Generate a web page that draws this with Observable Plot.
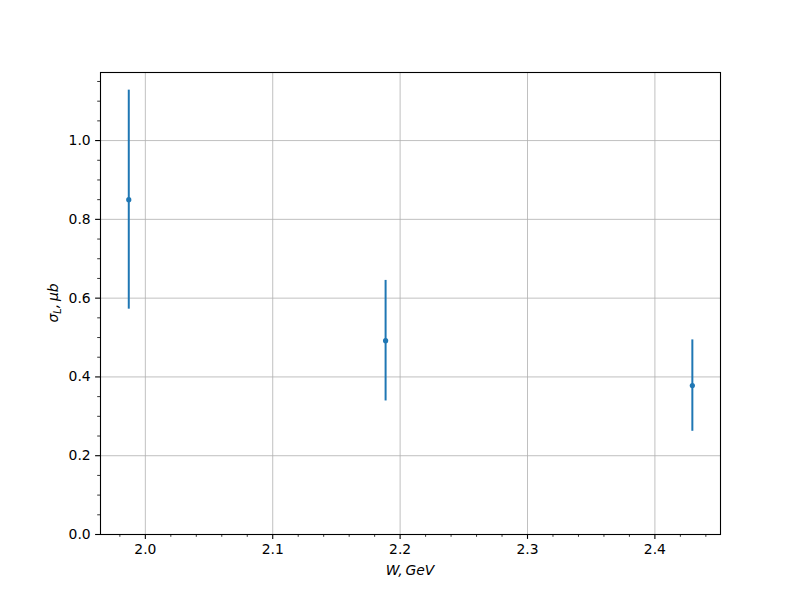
<!DOCTYPE html>
<html>
<head>
<meta charset="utf-8">
<script src="https://cdn.jsdelivr.net/npm/d3@7"></script>
<script src="https://cdn.jsdelivr.net/npm/@observablehq/plot@0.6"></script>
<style>
  html, body { margin: 0; padding: 0; background: #fff; }
</style>
</head>
<body>
<div id="chart"></div>
<script>
// Data
const W = [1.987, 2.1886, 2.4294];
const sigmaL = [0.850, 0.492, 0.378];
const err = [0.278, 0.153, 0.116];

const xMajor = [2.0, 2.1, 2.2, 2.3, 2.4];
const yMajor = [0.0, 0.2, 0.4, 0.6, 0.8, 1.0];
const xMinor = [1.98, 2.02, 2.04, 2.06, 2.08, 2.12, 2.14, 2.16, 2.18, 2.22, 2.24, 2.26, 2.28, 2.32, 2.34, 2.36, 2.38, 2.42, 2.44];
const yMinor = [0.05, 0.10, 0.15, 0.25, 0.30, 0.35, 0.45, 0.50, 0.55, 0.65, 0.70, 0.75, 0.85, 0.90, 0.95, 1.05, 1.10, 1.15];

const data = W.map((w, i) => ({w, s: sigmaL[i], lo: sigmaL[i] - err[i], hi: sigmaL[i] + err[i]}));

const color = "#1f77b4";
const fmt = d3.format(".1f");

const chart = Plot.plot({
  width: 800,
  height: 600,
  marginLeft: 100,
  marginRight: 80,
  marginTop: 72,
  marginBottom: 66,
  style: {fontFamily: "DejaVu Sans, sans-serif", fontSize: "13.9px", background: "#fff", color: "#000"},
  x: {domain: [1.9648, 2.4515]},
  y: {domain: [0, 1.1728]},
  marks: [
    Plot.gridX(xMajor, {stroke: "#b0b0b0", strokeOpacity: 1, strokeWidth: 0.8}),
    Plot.gridY(yMajor, {stroke: "#b0b0b0", strokeOpacity: 1, strokeWidth: 0.8}),
    Plot.axisX({ticks: xMajor, tickSize: 4.9, tickPadding: 4.9, tickFormat: fmt, strokeWidth: 1.1, label: null, fill: "#000"}),
    Plot.axisY({ticks: yMajor, tickSize: 4.9, tickPadding: 4.9, tickFormat: fmt, strokeWidth: 1.1, label: null, fill: "#000"}),
    Plot.axisX({ticks: xMinor, tickSize: 2.8, strokeWidth: 0.8, text: null, label: null}),
    Plot.axisY({ticks: yMinor, tickSize: 2.8, strokeWidth: 0.8, text: null, label: null}),
    Plot.ruleX(data, {x: "w", y1: "lo", y2: "hi", stroke: color, strokeWidth: 2}),
    Plot.dot(data, {x: "w", y: "s", r: 2.6, fill: color, stroke: "none"}),
    Plot.frame({stroke: "#000", strokeWidth: 1.1})
  ]
});

document.getElementById("chart").appendChild(chart);

const svg = d3.select(chart);
// x label
const xl = svg.append("text")
  .attr("x", 410).attr("y", 575)
  .attr("text-anchor", "middle")
  .style("font-family", "DejaVu Sans, sans-serif")
  .style("font-size", "13.9px")
  .style("font-style", "italic")
  .attr("fill", "#000");
xl.text("W,\u2009GeV");

// y label
const yl = svg.append("text")
  .attr("transform", "translate(58,303) rotate(-90)")
  .attr("text-anchor", "middle")
  .style("font-family", "DejaVu Sans, sans-serif")
  .style("font-size", "13.9px")
  .style("font-style", "italic")
  .attr("fill", "#000");
yl.append("tspan").text("\u03c3");
yl.append("tspan").attr("dy", 3).style("font-size", "9.7px").text("L");
yl.append("tspan").attr("dy", -3).text(",\u2009\u03bcb");
</script>
</body>
</html>
